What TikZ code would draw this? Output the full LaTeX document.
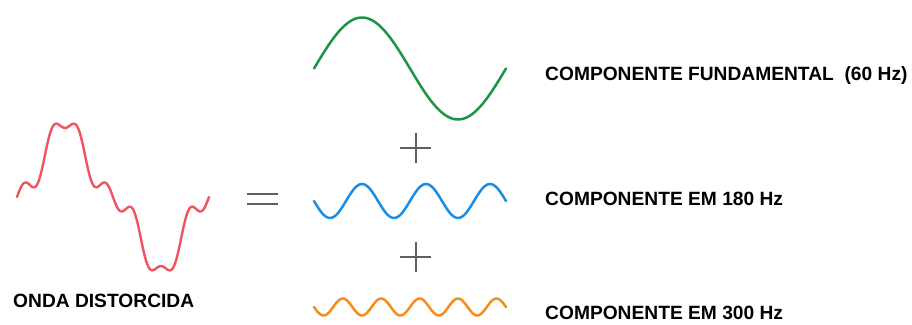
\documentclass[tikz,border=0pt]{standalone}
\usepackage{fontspec}
\setmainfont{Liberation Sans}
\usepackage{xcolor}
\usepackage{tikz}
\usetikzlibrary{arrows.meta,calc}

\definecolor{wred}{RGB}{240,84,94}
\definecolor{wgreen}{RGB}{28,148,70}
\definecolor{wblue}{RGB}{24,142,228}
\definecolor{worange}{RGB}{246,140,28}
\definecolor{sgray}{RGB}{95,95,95}

\begin{document}
\begin{tikzpicture}[x=1pt,y=-1pt,
    wave/.style={line width=2.5pt,line cap=round,line join=round},
    sign/.style={line width=2.6pt,sgray},
    lbl/.style={anchor=base west,inner sep=0pt,font=\fontsize{19.2}{21}\selectfont\bfseries}]
  \useasboundingbox (0,0) rectangle (912,324);
  % distorted wave
  \draw[wave,wred,line width=2.4pt] plot[domain=0:360,samples=160]
    ({17+0.53333*\x},{197-(60.9*sin(\x)-16.5*sin(3*\x)+1.2*sin(5*\x)+9.55*sin(7*\x))});
  \node[lbl] (onda) at (13,307) {ONDA DISTORCIDA};
  % equals
  \draw[sign] (247,194) -- (278,194);
  \draw[sign] (247,204) -- (278,204);
  % components
  \draw[wave,wgreen] plot[domain=0:360,samples=80] ({314+0.53333*\x},{68.5-51*sin(\x)});
  \draw[wave,wblue] plot[domain=0:360,samples=100] ({314+0.53333*\x},{201+17*sin(3*\x)});
  \draw[wave,worange] plot[domain=0:360,samples=120] ({314+0.53333*\x},{307+8.5*sin(5*\x)});
  \foreach \y in {148,257}{
    \draw[sign] (416,\y-15) -- (416,\y+15);
    \draw[sign] (400,\y) -- (431,\y);
  }
  \node[lbl] (fund) at (545,80) {COMPONENTE FUNDAMENTAL\ \ (60 Hz)};
  \node[lbl] (h180) at (545,205) {COMPONENTE EM 180 Hz};
  \node[lbl] (h300) at (545,319) {COMPONENTE EM 300 Hz};
\end{tikzpicture}
\end{document}
